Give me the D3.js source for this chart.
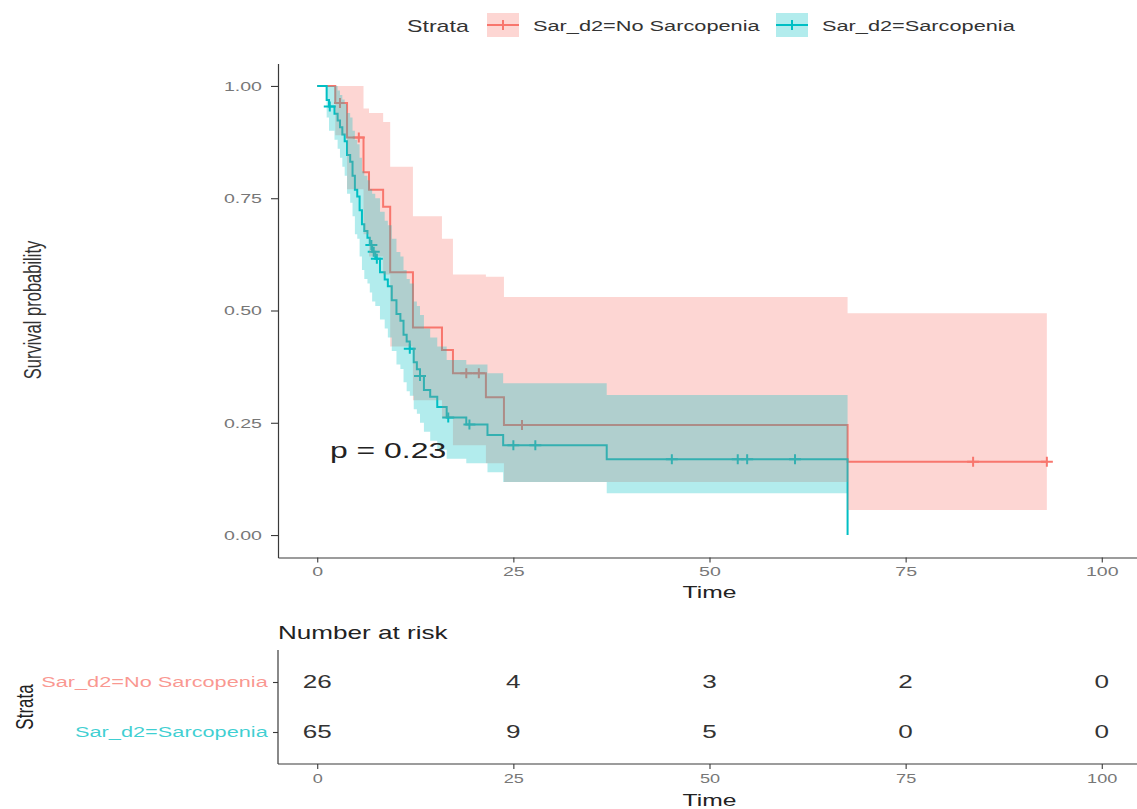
<!DOCTYPE html>
<html>
<head>
<meta charset="utf-8">
<script src="https://cdn.jsdelivr.net/npm/d3@7"></script>
<style>
  body { margin: 0; background: #fff; }
  svg text { font-family: "Liberation Sans", Arial, sans-serif; }
</style>
</head>
<body>
<div id="chart"></div>
<script>
/**
 * DATA
 * */
const strata = ["Sar_d2=No Sarcopenia", "Sar_d2=Sarcopenia"];
const strataColors = ["#F8766D", "#00BFC4"];

// Sar_d2=No Sarcopenia (n = 26)
const noSarTime = [0, 2.3, 3.8, 5.9, 6.6, 8.4, 9.3, 12.2, 15.9, 17.3, 21.5, 23.8, 67.6];
const noSarSurv = [1, 0.962, 0.885, 0.808, 0.769, 0.731, 0.585, 0.462, 0.412, 0.36, 0.307, 0.245, 0.163];
const noSarLower = [1, 0.89, 0.77, 0.67, 0.62, 0.58, 0.42, 0.3, 0.26, 0.2, 0.16, 0.118, 0.056];
const noSarUpper = [1, 1, 1, 0.95, 0.94, 0.92, 0.82, 0.71, 0.66, 0.58, 0.575, 0.53, 0.494];
const noSarCensor = [2.9, 5.3, 19.0, 20.6, 26.1, 83.6, 93];
const noSarEnd = 93;

// Sar_d2=Sarcopenia (n = 65)
const sarTime = [0, 1.2, 1.5, 2.2, 2.6, 2.9, 3.2, 3.5, 3.8, 4.2,
  4.5, 4.8, 5.1, 5.4, 5.7, 6.0, 6.4, 6.7, 7.0, 7.4,
  8.0, 8.6, 9.0, 9.5, 10.1, 10.6, 11.0, 11.4, 11.8, 12.3,
  12.7, 13.1, 13.6, 14.4, 15.3, 16.5, 19.0, 21.7, 23.7, 36.9, 67.6];
const sarSurv = [1, 0.969, 0.954, 0.938, 0.923, 0.908, 0.892, 0.877, 0.846, 0.831,
  0.8, 0.769, 0.754, 0.723, 0.692, 0.677, 0.662, 0.646, 0.631, 0.615,
  0.585, 0.569, 0.554, 0.523, 0.492, 0.477, 0.446, 0.431, 0.415, 0.385,
  0.369, 0.354, 0.323, 0.308, 0.285, 0.262, 0.246, 0.223, 0.2, 0.169, 0];
const sarLower = [1, 0.93, 0.9, 0.88, 0.86, 0.84, 0.82, 0.8, 0.76, 0.74,
  0.71, 0.67, 0.66, 0.62, 0.59, 0.57, 0.56, 0.54, 0.52, 0.51,
  0.48, 0.46, 0.44, 0.41, 0.38, 0.37, 0.34, 0.32, 0.31, 0.28,
  0.27, 0.25, 0.23, 0.21, 0.19, 0.17, 0.16, 0.14, 0.118, 0.093, 0];
const sarUpper = [1, 1, 1, 1, 0.99, 0.98, 0.97, 0.96, 0.94, 0.93,
  0.9, 0.88, 0.87, 0.84, 0.81, 0.8, 0.79, 0.77, 0.76, 0.75,
  0.72, 0.7, 0.69, 0.66, 0.63, 0.62, 0.59, 0.57, 0.56, 0.52,
  0.51, 0.49, 0.46, 0.44, 0.42, 0.39, 0.38, 0.36, 0.338, 0.312, 0];
const sarCensor = [1.6, 6.9, 7.2, 7.6, 11.8, 13.1, 16.7, 19.4, 25.0, 27.8, 45.2, 53.6, 54.8, 60.9];
const sarEnd = 67.6;

// risk table
const riskTimes = [0, 25, 50, 75, 100];
const riskNoSar = [26, 4, 3, 2, 0];
const riskSar = [65, 9, 5, 0, 0];

const yTicks = [0, 0.25, 0.5, 0.75, 1];
const pText = "p = 0.23";

/**
 * SETUP
 * */
const width = 1137,
  height = 809,
  stretchX = 1.45; // the picture is widened, so are its glyphs

const svg = d3
  .select("#chart")
  .append("svg")
  .attr("width", width)
  .attr("height", height);

const xScale = d3.scaleLinear().domain([-5, 105]).range([278, 1141]);
const yScale = d3.scaleLinear().domain([-0.05, 1.05]).range([557.5, 63.5]);

function stretch(sel, origin) {
  sel
    .style("transform-box", "fill-box")
    .style("transform-origin", origin + " center")
    .style("transform", `scaleX(${stretchX})`);
}

function survAt(time, surv, t) {
  let i = 0;
  while (i + 1 < time.length && time[i + 1] <= t) i++;
  return surv[i];
}

const groups = [
  { name: strata[0], color: strataColors[0], time: noSarTime, surv: noSarSurv,
    lower: noSarLower, upper: noSarUpper, censor: noSarCensor, end: noSarEnd },
  { name: strata[1], color: strataColors[1], time: sarTime, surv: sarSurv,
    lower: sarLower, upper: sarUpper, censor: sarCensor, end: sarEnd },
];

groups.forEach((g) => {
  g.line = g.time.map((t, i) => ({ t: t, s: g.surv[i] }));
  const last = g.line[g.line.length - 1];
  if (g.end > last.t) g.line.push({ t: g.end, s: last.s });

  g.band = [];
  g.time.forEach((t, i) => {
    if (g.surv[i] > 0) g.band.push({ t: t, lo: g.lower[i], up: g.upper[i] });
  });
  const lb = g.band[g.band.length - 1];
  g.band.push({ t: g.end, lo: lb.lo, up: lb.up });

  g.marks = g.censor.map((t) => ({ t: t, s: survAt(g.time, g.surv, t) }));
});

/**
 * SURVIVAL PLOT
 * */
const stepLine = d3
  .line()
  .curve(d3.curveStepAfter)
  .x((d) => xScale(d.t))
  .y((d) => yScale(d.s));

const band = d3
  .area()
  .curve(d3.curveStepAfter)
  .x((d) => xScale(d.t))
  .y0((d) => yScale(d.lo))
  .y1((d) => yScale(d.up));

const plus = "M-6,0H6M0,-5V5";

const curves = svg.append("g").attr("class", "curves");

curves
  .selectAll(".km")
  .data(groups)
  .join("path")
  .attr("class", "km")
  .attr("fill", "none")
  .attr("stroke", (d) => d.color)
  .attr("stroke-width", 2)
  .attr("d", (d) => stepLine(d.line));

groups.forEach((g) => {
  curves
    .append("g")
    .selectAll("path")
    .data(g.marks)
    .join("path")
    .attr("d", plus)
    .attr("stroke", g.color)
    .attr("stroke-width", 2)
    .attr("transform", (d) => `translate(${xScale(d.t)},${yScale(d.s)})`);
});

// ribbons on top, as survminer draws them
curves
  .selectAll(".ci")
  .data(groups)
  .join("path")
  .attr("class", "ci")
  .attr("fill", (d) => d.color)
  .attr("fill-opacity", 0.3)
  .attr("d", (d) => band(d.band));

// AXES
const xAxis = d3.axisBottom(xScale).tickValues(riskTimes).tickSize(5).tickSizeOuter(0).tickPadding(4);
const yAxis = d3
  .axisLeft(yScale)
  .tickValues(yTicks)
  .tickFormat(d3.format(".2f"))
  .tickSize(7)
  .tickSizeOuter(0)
  .tickPadding(9);

function styleAxis(g) {
  g.select(".domain").attr("stroke", "#3a3a3a").attr("stroke-width", 1.2);
  g.selectAll(".tick line").attr("stroke", "#3a3a3a").attr("stroke-width", 1.1);
  g.selectAll(".tick text").attr("fill", "#777").attr("font-size", 13.5);
}

const gx = svg
  .append("g")
  .attr("class", "axis x-axis")
  .attr("transform", "translate(0,557.5)")
  .call(xAxis)
  .call(styleAxis);
stretch(gx.selectAll(".tick text"), "center");

const gy = svg
  .append("g")
  .attr("class", "axis y-axis")
  .attr("transform", "translate(278,0)")
  .call(yAxis)
  .call(styleAxis);
stretch(gy.selectAll(".tick text"), "right");

svg
  .append("text")
  .attr("x", xScale(50))
  .attr("y", 598)
  .attr("text-anchor", "middle")
  .attr("font-size", 17)
  .attr("fill", "#222")
  .text("Time")
  .call(stretch, "center");

svg
  .append("text")
  .attr("transform", `translate(41,310) scale(${stretchX},1) rotate(-90)`)
  .attr("text-anchor", "middle")
  .attr("font-size", 16.5)
  .attr("fill", "#333")
  .text("Survival probability");

svg
  .append("text")
  .attr("x", 330)
  .attr("y", 458)
  .attr("font-size", 22)
  .attr("fill", "#222")
  .text(pText)
  .call(stretch, "left");

/**
 * LEGEND
 * */
const legend = svg.append("g").attr("class", "legend");
legend
  .append("text")
  .attr("x", 407)
  .attr("y", 32)
  .attr("font-size", 16)
  .attr("fill", "#333")
  .text("Strata")
  .call(stretch, "left");

const legendX = [487, 776];
groups.forEach((g, i) => {
  const k = legend.append("g").attr("transform", `translate(${legendX[i]},13)`);
  k.append("path").attr("d", "M0,12H32M16,7V17").attr("stroke", g.color).attr("stroke-width", 2);
  k.append("rect").attr("width", 32).attr("height", 24).attr("fill", g.color).attr("fill-opacity", 0.3);
  legend
    .append("text")
    .attr("x", legendX[i] + 46)
    .attr("y", 31)
    .attr("font-size", 15)
    .attr("fill", "#333")
    .text(g.name)
    .call(stretch, "left");
});

/**
 * RISK TABLE
 * */
const yRisk = d3.scalePoint().domain(strata).range([650, 764]).padding(0.64);
const riskRows = [riskNoSar, riskSar];

svg
  .append("text")
  .attr("x", 278)
  .attr("y", 639)
  .attr("font-size", 18)
  .attr("fill", "#222")
  .text("Number at risk")
  .call(stretch, "left");

riskRows.forEach((row, i) => {
  svg
    .append("g")
    .selectAll("text")
    .data(row)
    .join("text")
    .attr("x", (d, j) => xScale(riskTimes[j]))
    .attr("y", yRisk(strata[i]) + 6.5)
    .attr("text-anchor", "middle")
    .attr("font-size", 18)
    .attr("fill", "#333")
    .text((d) => d)
    .call(stretch, "center");
});

const xAxisRisk = d3.axisBottom(xScale).tickValues(riskTimes).tickSize(5).tickSizeOuter(0).tickPadding(5);
const gxr = svg
  .append("g")
  .attr("class", "axis x-axis-risk")
  .attr("transform", "translate(0,764)")
  .call(xAxisRisk)
  .call(styleAxis);
gxr.select(".domain").attr("d", `M278,0H${width}`);
gxr.selectAll(".tick text").attr("font-size", 12.5);
stretch(gxr.selectAll(".tick text"), "center");

const yAxisRisk = d3.axisLeft(yRisk).tickSize(5).tickSizeOuter(0).tickPadding(5);
const gyr = svg
  .append("g")
  .attr("class", "axis y-axis-risk")
  .attr("transform", "translate(278,0)")
  .call(yAxisRisk)
  .call(styleAxis);
gyr.select(".domain").attr("d", "M0,650V764");
gyr
  .selectAll(".tick text")
  .attr("font-size", 15)
  .attr("fill", (d, i) => strataColors[i])
  .attr("fill-opacity", 0.75);
stretch(gyr.selectAll(".tick text"), "right");

svg
  .append("text")
  .attr("x", xScale(50))
  .attr("y", 806)
  .attr("text-anchor", "middle")
  .attr("font-size", 17)
  .attr("fill", "#222")
  .text("Time")
  .call(stretch, "center");

svg
  .append("text")
  .attr("transform", `translate(33,707) scale(${stretchX},1) rotate(-90)`)
  .attr("text-anchor", "middle")
  .attr("font-size", 17)
  .attr("fill", "#222")
  .text("Strata");
</script>
</body>
</html>
